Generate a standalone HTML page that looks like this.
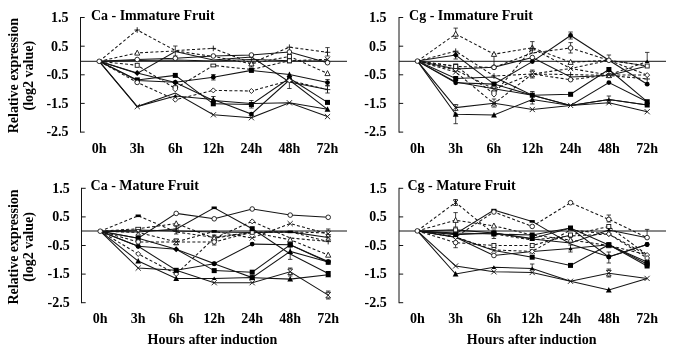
<!DOCTYPE html>
<html><head><meta charset="utf-8"><title>Relative expression</title>
<style>
html,body{margin:0;padding:0;background:#fff;}
svg{display:block;}
text{font-family:"Liberation Serif","Times New Roman",serif;font-weight:bold;fill:#000;}
</style></head><body>
<svg width="685" height="352" viewBox="0 0 685 352">
<rect width="685" height="352" fill="#fff"/>

<g id="p1">
<polyline points="99.2,61.3 137.2,30.0 175.3,50.5 213.3,48.4 251.4,63.0 289.4,47.2 327.5,52.3" fill="none" stroke="#141414" stroke-width="1.05" stroke-dasharray="3 2.2"/>
<polyline points="99.2,61.3 137.2,52.9 175.3,51.0 213.3,56.5 251.4,63.7 289.4,56.4 327.5,73.4" fill="none" stroke="#141414" stroke-width="1.05" stroke-dasharray="3 2.2"/>
<polyline points="99.2,61.3 137.2,59.5 175.3,58.3 213.3,56.0 251.4,55.0 289.4,52.0 327.5,62.7" fill="none" stroke="#141414" stroke-width="1.05"/>
<polyline points="99.2,61.3 137.2,60.5 175.3,60.0 213.3,61.0 251.4,59.5 289.4,60.8 327.5,61.0" fill="none" stroke="#141414" stroke-width="1.05"/>
<polyline points="99.2,61.3 137.2,65.3 175.3,88.5 213.3,65.5 251.4,69.5 289.4,60.8 327.5,59.3" fill="none" stroke="#141414" stroke-width="1.05" stroke-dasharray="3 2.2"/>
<polyline points="99.2,61.3 137.2,73.5 175.3,51.5 213.3,60.0 251.4,57.0 289.4,82.0 327.5,89.6" fill="none" stroke="#141414" stroke-width="1.05"/>
<polyline points="99.2,61.3 137.2,79.9 175.3,75.4 213.3,103.8 251.4,104.5 289.4,78.2 327.5,102.4" fill="none" stroke="#141414" stroke-width="1.05"/>
<polyline points="99.2,61.3 137.2,80.5 175.3,82.3 213.3,77.2 251.4,70.4 289.4,74.6 327.5,82.6" fill="none" stroke="#141414" stroke-width="1.05"/>
<polyline points="99.2,61.3 137.2,82.4 175.3,99.7 213.3,90.4 251.4,91.0 289.4,80.5 327.5,89.6" fill="none" stroke="#141414" stroke-width="1.05" stroke-dasharray="3 2.2"/>
<polyline points="99.2,61.3 137.2,106.6 175.3,96.0 213.3,99.5 251.4,114.1 289.4,80.0 327.5,109.3" fill="none" stroke="#141414" stroke-width="1.05"/>
<polyline points="99.2,61.3 137.2,73.1 175.3,82.6 213.3,100.5 251.4,103.5 289.4,102.8 327.5,109.3" fill="none" stroke="#141414" stroke-width="1.05"/>
<polyline points="99.2,61.3 137.2,106.6 175.3,93.0 213.3,114.8 251.4,117.7 289.4,102.8 327.5,116.6" fill="none" stroke="#141414" stroke-width="1.05"/>
<path d="M80.5 17.0V132.6" stroke="#141414" stroke-width="1" fill="none"/>
<path d="M80.5 17.5h4.2" stroke="#141414" stroke-width="1"/>
<text transform="translate(68.6,21.8) scale(1.0,1)" font-size="14.0" text-anchor="end">1.5</text>
<path d="M80.5 46.2h4.2" stroke="#141414" stroke-width="1"/>
<text transform="translate(68.6,50.5) scale(1.0,1)" font-size="14.0" text-anchor="end">0.5</text>
<path d="M80.5 74.8h4.2" stroke="#141414" stroke-width="1"/>
<text transform="translate(68.6,79.1) scale(1.0,1)" font-size="14.0" text-anchor="end">-0.5</text>
<path d="M80.5 103.4h4.2" stroke="#141414" stroke-width="1"/>
<text transform="translate(68.6,107.7) scale(1.0,1)" font-size="14.0" text-anchor="end">-1.5</text>
<path d="M80.5 132.1h4.2" stroke="#141414" stroke-width="1"/>
<text transform="translate(68.6,136.4) scale(1.0,1)" font-size="14.0" text-anchor="end">-2.5</text>
<path d="M80.5 61.3H347" stroke="#141414" stroke-width="1"/>
<path d="M175.3 46V56M173.1 46h4.4M173.1 56h4.4" stroke="#141414" stroke-width="0.8" fill="none"/>
<path d="M251.4 57V67M249.2 57h4.4M249.2 67h4.4" stroke="#141414" stroke-width="0.8" fill="none"/>
<path d="M289.4 78V88.5M287.2 78h4.4M287.2 88.5h4.4" stroke="#141414" stroke-width="0.8" fill="none"/>
<path d="M327.5 47.6V56M325.3 47.6h4.4M325.3 56h4.4" stroke="#141414" stroke-width="0.8" fill="none"/>
<path d="M327.5 86V93M325.3 86h4.4M325.3 93h4.4" stroke="#141414" stroke-width="0.8" fill="none"/>
<path d="M213.3 96.5V102M211.2 96.5h4.4M211.2 102h4.4" stroke="#141414" stroke-width="0.8" fill="none"/>
<path d="M251.4 100.5V108M249.2 100.5h4.4M249.2 108h4.4" stroke="#141414" stroke-width="0.8" fill="none"/>
<path d="M213.3 74.5V80M211.2 74.5h4.4M211.2 80h4.4" stroke="#141414" stroke-width="0.8" fill="none"/>
<path d="M327.5 79.5V85.5M325.3 79.5h4.4M325.3 85.5h4.4" stroke="#141414" stroke-width="0.8" fill="none"/>
<path d="M134.4 30.0h5.6M137.2 27.2v5.6" stroke="#141414" stroke-width="0.9" fill="none"/>

<path d="M210.5 48.4h5.6M213.3 45.6v5.6" stroke="#141414" stroke-width="0.9" fill="none"/>

<path d="M286.6 47.2h5.6M289.4 44.4v5.6" stroke="#141414" stroke-width="0.9" fill="none"/>
<path d="M324.7 52.3h5.6M327.5 49.5v5.6" stroke="#141414" stroke-width="0.9" fill="none"/>
<path d="M137.2 50.1L139.8 55.1H134.7Z" fill="#fff" stroke="#141414" stroke-width="0.9"/>


<path d="M251.4 60.9L254.0 65.9H248.8Z" fill="#fff" stroke="#141414" stroke-width="0.9"/>
<rect x="287.4" y="54.4" width="4" height="4" fill="#fff" stroke="#141414" stroke-width="0.9"/>
<path d="M327.5 70.6L330.1 75.6H324.9Z" fill="#fff" stroke="#141414" stroke-width="0.9"/>
<circle cx="137.2" cy="59.5" r="2.3" fill="#fff" stroke="#141414" stroke-width="0.9"/>
<circle cx="175.3" cy="58.3" r="2.3" fill="#fff" stroke="#141414" stroke-width="0.9"/>
<circle cx="213.3" cy="56.0" r="2.3" fill="#fff" stroke="#141414" stroke-width="0.9"/>
<circle cx="251.4" cy="55.0" r="2.3" fill="#fff" stroke="#141414" stroke-width="0.9"/>
<circle cx="289.4" cy="52.0" r="2.3" fill="#fff" stroke="#141414" stroke-width="0.9"/>
<circle cx="327.5" cy="62.7" r="2.3" fill="#fff" stroke="#141414" stroke-width="0.9"/>




<rect x="287.4" y="58.8" width="4" height="4" fill="#fff" stroke="#141414" stroke-width="0.9"/>

<rect x="135.2" y="63.3" width="4" height="4" fill="#fff" stroke="#141414" stroke-width="0.9"/>
<path d="M173.1 85.7h4.4v4l-2.2 2.2l-2.2 -2.2z" fill="#fff" stroke="#141414" stroke-width="0.9"/>
<rect x="210.9" y="64.1" width="4.8" height="2.8" fill="#fff" stroke="#141414" stroke-width="0.9"/>

<rect x="287.4" y="58.8" width="4" height="4" fill="#fff" stroke="#141414" stroke-width="0.9"/>
<path d="M324.9 56.7l5.2 5.2M324.9 61.9l5.2 -5.2" stroke="#141414" stroke-width="0.9" fill="none"/>





<path d="M324.7 89.6h5.6M327.5 86.8v5.6" stroke="#141414" stroke-width="0.9" fill="none"/>
<rect x="134.8" y="77.4" width="5" height="5" fill="#000"/>
<rect x="172.8" y="72.9" width="5" height="5" fill="#000"/>
<rect x="210.8" y="101.3" width="5" height="5" fill="#000"/>
<rect x="248.9" y="102.0" width="5" height="5" fill="#000"/>
<circle cx="289.4" cy="78.2" r="2.4" fill="#000"/>
<rect x="325.0" y="99.9" width="5" height="5" fill="#000"/>

<circle cx="175.3" cy="82.3" r="2.4" fill="#000"/>
<circle cx="213.3" cy="77.2" r="2.4" fill="#000"/>
<rect x="248.9" y="67.9" width="5" height="5" fill="#000"/>
<path d="M289.4 71.6L292.3 77.1H286.6Z" fill="#000"/>
<circle cx="327.5" cy="82.6" r="2.4" fill="#000"/>
<circle cx="137.2" cy="82.4" r="2.3" fill="#fff" stroke="#141414" stroke-width="0.9"/>
<path d="M175.3 97.2L177.8 99.7L175.3 102.2L172.8 99.7Z" fill="#fff" stroke="#141414" stroke-width="0.9"/>
<path d="M213.3 87.9L215.8 90.4L213.3 92.9L210.8 90.4Z" fill="#fff" stroke="#141414" stroke-width="0.9"/>
<path d="M251.4 88.5L253.9 91.0L251.4 93.5L248.9 91.0Z" fill="#fff" stroke="#141414" stroke-width="0.9"/>
<path d="M289.4 78.0L291.9 80.5L289.4 83.0L286.9 80.5Z" fill="#fff" stroke="#141414" stroke-width="0.9"/>


<path d="M175.3 94.0L177.5 97.6H173.1Z" fill="#000"/>
<path d="M213.3 96.5L216.2 102.0H210.4Z" fill="#000"/>
<circle cx="251.4" cy="114.1" r="2.4" fill="#000"/>

<path d="M327.5 106.3L330.4 111.8H324.6Z" fill="#000"/>
<path d="M137.2 70.1L140.2 73.1L137.2 76.1L134.2 73.1Z" fill="#000"/>
<path d="M175.3 79.6L178.3 82.6L175.3 85.6L172.3 82.6Z" fill="#000"/>




<path d="M134.7 104.0l5.2 5.2M134.7 109.2l5.2 -5.2" stroke="#141414" stroke-width="0.9" fill="none"/>

<path d="M210.8 112.2l5.2 5.2M210.8 117.4l5.2 -5.2" stroke="#141414" stroke-width="0.9" fill="none"/>
<path d="M248.8 115.1l5.2 5.2M248.8 120.3l5.2 -5.2" stroke="#141414" stroke-width="0.9" fill="none"/>
<path d="M286.8 100.2l5.2 5.2M286.8 105.4l5.2 -5.2" stroke="#141414" stroke-width="0.9" fill="none"/>
<path d="M324.9 114.0l5.2 5.2M324.9 119.2l5.2 -5.2" stroke="#141414" stroke-width="0.9" fill="none"/>
<circle cx="99.2" cy="61.3" r="2.3" fill="#fff" stroke="#141414" stroke-width="0.9"/>
<text transform="translate(90.9,19.8) scale(1.0,1)" font-size="14.0">Ca - Immature Fruit</text>
<text transform="translate(99.2,153.2) scale(1.0,1)" font-size="14.0" text-anchor="middle">0h</text>
<text transform="translate(137.2,153.2) scale(1.0,1)" font-size="14.0" text-anchor="middle">3h</text>
<text transform="translate(175.3,153.2) scale(1.0,1)" font-size="14.0" text-anchor="middle">6h</text>
<text transform="translate(213.3,153.2) scale(1.0,1)" font-size="14.0" text-anchor="middle">12h</text>
<text transform="translate(251.4,153.2) scale(1.0,1)" font-size="14.0" text-anchor="middle">24h</text>
<text transform="translate(289.4,153.2) scale(1.0,1)" font-size="14.0" text-anchor="middle">48h</text>
<text transform="translate(327.5,153.2) scale(1.0,1)" font-size="14.0" text-anchor="middle">72h</text>
</g>
<g id="p2">
<polyline points="417.4,61.1 455.7,34.0 494.0,54.2 532.3,47.7 570.6,62.2 608.9,60.3 647.2,66.0" fill="none" stroke="#141414" stroke-width="1.05" stroke-dasharray="3 2.2"/>
<polyline points="417.4,61.1 455.7,51.2 494.0,76.0 532.3,74.0 570.6,74.6 608.9,75.4 647.2,79.0" fill="none" stroke="#141414" stroke-width="1.05" stroke-dasharray="3 2.2"/>
<polyline points="417.4,61.1 455.7,55.0 494.0,84.1 532.3,95.2 570.6,105.4 608.9,99.6 647.2,105.0" fill="none" stroke="#141414" stroke-width="1.05"/>
<polyline points="417.4,61.1 455.7,66.0 494.0,93.7 532.3,48.5 570.6,68.5 608.9,60.3 647.2,66.0" fill="none" stroke="#141414" stroke-width="1.05" stroke-dasharray="3 2.2"/>
<polyline points="417.4,61.1 455.7,69.0 494.0,67.2 532.3,57.5 570.6,77.0 608.9,75.4 647.2,66.0" fill="none" stroke="#141414" stroke-width="1.05"/>
<polyline points="417.4,61.1 455.7,72.0 494.0,103.6 532.3,74.0 570.6,79.7 608.9,75.0 647.2,75.1" fill="none" stroke="#141414" stroke-width="1.05" stroke-dasharray="3 2.2"/>
<polyline points="417.4,61.1 455.7,78.5 494.0,77.0 532.3,95.2 570.6,94.3 608.9,69.5 647.2,101.7" fill="none" stroke="#141414" stroke-width="1.05"/>
<polyline points="417.4,61.1 455.7,82.8 494.0,84.1 532.3,61.6 570.6,35.5 608.9,60.3 647.2,84.2" fill="none" stroke="#141414" stroke-width="1.05"/>
<polyline points="417.4,61.1 455.7,114.2 494.0,114.9 532.3,99.6 570.6,105.4 608.9,99.6 647.2,105.0" fill="none" stroke="#141414" stroke-width="1.05"/>
<polyline points="417.4,61.1 455.7,66.5 494.0,67.4 532.3,53.0 570.6,48.0 608.9,60.3 647.2,75.0" fill="none" stroke="#141414" stroke-width="1.05" stroke-dasharray="3 2.2"/>
<polyline points="417.4,61.1 455.7,82.0 494.0,88.7 532.3,95.2 570.6,105.4 608.9,82.6 647.2,101.7" fill="none" stroke="#141414" stroke-width="1.05"/>
<polyline points="417.4,61.1 455.7,70.0 494.0,89.0 532.3,74.0 570.6,68.5 608.9,75.0 647.2,61.5" fill="none" stroke="#141414" stroke-width="1.05" stroke-dasharray="3 2.2"/>
<polyline points="417.4,61.1 455.7,107.6 494.0,103.2 532.3,109.5 570.6,105.4 608.9,102.8 647.2,111.7" fill="none" stroke="#141414" stroke-width="1.05"/>
<path d="M399.0 17.0V132.6" stroke="#141414" stroke-width="1" fill="none"/>
<path d="M399.0 17.5h4.2" stroke="#141414" stroke-width="1"/>
<text transform="translate(386.4,21.8) scale(1.0,1)" font-size="14.0" text-anchor="end">1.5</text>
<path d="M399.0 46.2h4.2" stroke="#141414" stroke-width="1"/>
<text transform="translate(386.4,50.5) scale(1.0,1)" font-size="14.0" text-anchor="end">0.5</text>
<path d="M399.0 74.8h4.2" stroke="#141414" stroke-width="1"/>
<text transform="translate(386.4,79.1) scale(1.0,1)" font-size="14.0" text-anchor="end">-0.5</text>
<path d="M399.0 103.4h4.2" stroke="#141414" stroke-width="1"/>
<text transform="translate(386.4,107.7) scale(1.0,1)" font-size="14.0" text-anchor="end">-1.5</text>
<path d="M399.0 132.1h4.2" stroke="#141414" stroke-width="1"/>
<text transform="translate(386.4,136.4) scale(1.0,1)" font-size="14.0" text-anchor="end">-2.5</text>
<path d="M399.0 61.3H666" stroke="#141414" stroke-width="1"/>
<path d="M455.7 28.1V38.4M453.5 28.1h4.4M453.5 38.4h4.4" stroke="#141414" stroke-width="0.8" fill="none"/>
<path d="M455.7 52V59M453.5 52h4.4M453.5 59h4.4" stroke="#141414" stroke-width="0.8" fill="none"/>
<path d="M494.0 54V66M491.8 54h4.4M491.8 66h4.4" stroke="#141414" stroke-width="0.8" fill="none"/>
<path d="M532.3 41.6V53M530.1 41.6h4.4M530.1 53h4.4" stroke="#141414" stroke-width="0.8" fill="none"/>
<path d="M570.6 32V39M568.4 32h4.4M568.4 39h4.4" stroke="#141414" stroke-width="0.8" fill="none"/>
<path d="M570.6 42.6V53M568.4 42.6h4.4M568.4 53h4.4" stroke="#141414" stroke-width="0.8" fill="none"/>
<path d="M455.7 114V123.7M453.5 114h4.4M453.5 123.7h4.4" stroke="#141414" stroke-width="0.8" fill="none"/>
<path d="M455.7 104.5V110.5M453.5 104.5h4.4M453.5 110.5h4.4" stroke="#141414" stroke-width="0.8" fill="none"/>
<path d="M532.3 91.5V104M530.1 91.5h4.4M530.1 104h4.4" stroke="#141414" stroke-width="0.8" fill="none"/>
<path d="M608.9 55V61M606.7 55h4.4M606.7 61h4.4" stroke="#141414" stroke-width="0.8" fill="none"/>
<path d="M647.2 52.4V62M645.0 52.4h4.4M645.0 62h4.4" stroke="#141414" stroke-width="0.8" fill="none"/>
<path d="M608.9 96V103M606.7 96h4.4M606.7 103h4.4" stroke="#141414" stroke-width="0.8" fill="none"/>
<path d="M494.0 99V107M491.8 99h4.4M491.8 107h4.4" stroke="#141414" stroke-width="0.8" fill="none"/>
<path d="M532.3 70V78M530.1 70h4.4M530.1 78h4.4" stroke="#141414" stroke-width="0.8" fill="none"/>
<path d="M455.7 31.2L458.3 36.2H453.1Z" fill="#fff" stroke="#141414" stroke-width="0.9"/>
<path d="M494.0 51.4L496.6 56.4H491.4Z" fill="#fff" stroke="#141414" stroke-width="0.9"/>
<path d="M532.3 44.9L534.9 49.9H529.7Z" fill="#fff" stroke="#141414" stroke-width="0.9"/>
<path d="M570.6 59.4L573.2 64.4H568.0Z" fill="#fff" stroke="#141414" stroke-width="0.9"/>

<rect x="645.2" y="64.0" width="4" height="4" fill="#fff" stroke="#141414" stroke-width="0.9"/>
<path d="M452.9 51.2h5.6M455.7 48.4v5.6" stroke="#141414" stroke-width="0.9" fill="none"/>
<path d="M491.2 76.0h5.6M494.0 73.2v5.6" stroke="#141414" stroke-width="0.9" fill="none"/>

<path d="M567.8 74.6h5.6M570.6 71.8v5.6" stroke="#141414" stroke-width="0.9" fill="none"/>
<path d="M606.1 75.4h5.6M608.9 72.6v5.6" stroke="#141414" stroke-width="0.9" fill="none"/>
<path d="M644.4 79.0h5.6M647.2 76.2v5.6" stroke="#141414" stroke-width="0.9" fill="none"/>
<path d="M455.7 52.0L458.7 55.0L455.7 58.0L452.7 55.0Z" fill="#000"/>



<path d="M608.9 97.6L611.1 101.2H606.7Z" fill="#000"/>
<rect x="644.7" y="102.5" width="5" height="5" fill="#000"/>
<rect x="453.7" y="64.0" width="4" height="4" fill="#fff" stroke="#141414" stroke-width="0.9"/>
<path d="M491.8 90.9h4.4v4l-2.2 2.2l-2.2 -2.2z" fill="#fff" stroke="#141414" stroke-width="0.9"/>
<path d="M529.5 48.5h5.6M532.3 45.7v5.6" stroke="#141414" stroke-width="0.9" fill="none"/>
<path d="M568.0 65.9l5.2 5.2M568.0 71.1l5.2 -5.2" stroke="#141414" stroke-width="0.9" fill="none"/>


<circle cx="455.7" cy="69.0" r="2.3" fill="#fff" stroke="#141414" stroke-width="0.9"/>
<circle cx="494.0" cy="67.2" r="2.3" fill="#fff" stroke="#141414" stroke-width="0.9"/>
<circle cx="532.3" cy="57.5" r="2.3" fill="#fff" stroke="#141414" stroke-width="0.9"/>

<path d="M608.9 72.6L611.5 77.6H606.3Z" fill="#fff" stroke="#141414" stroke-width="0.9"/>

<path d="M453.1 69.4l5.2 5.2M453.1 74.6l5.2 -5.2" stroke="#141414" stroke-width="0.9" fill="none"/>
<path d="M491.4 101.0l5.2 5.2M491.4 106.2l5.2 -5.2" stroke="#141414" stroke-width="0.9" fill="none"/>
<path d="M529.9 71.2h4.8l-4.8 5.6h4.8z" fill="#fff" stroke="#141414" stroke-width="0.9"/>
<circle cx="570.6" cy="79.7" r="2.3" fill="#fff" stroke="#141414" stroke-width="0.9"/>
<path d="M606.3 72.4l5.2 5.2M606.3 77.6l5.2 -5.2" stroke="#141414" stroke-width="0.9" fill="none"/>
<path d="M647.2 72.6L649.7 75.1L647.2 77.6L644.7 75.1Z" fill="#fff" stroke="#141414" stroke-width="0.9"/>
<rect x="453.2" y="76.0" width="5" height="5" fill="#000"/>

<rect x="529.8" y="92.7" width="5" height="5" fill="#000"/>
<rect x="568.1" y="91.8" width="5" height="5" fill="#000"/>
<rect x="606.4" y="67.0" width="5" height="5" fill="#000"/>
<rect x="644.7" y="99.2" width="5" height="5" fill="#000"/>
<circle cx="455.7" cy="82.8" r="2.4" fill="#000"/>
<rect x="491.5" y="81.6" width="5" height="5" fill="#000"/>
<circle cx="532.3" cy="61.6" r="2.4" fill="#000"/>
<circle cx="570.6" cy="35.5" r="2.4" fill="#000"/>

<circle cx="647.2" cy="84.2" r="2.4" fill="#000"/>
<path d="M455.7 111.2L458.6 116.7H452.8Z" fill="#000"/>
<path d="M494.0 111.9L496.9 117.4H491.1Z" fill="#000"/>
<path d="M532.3 96.6L535.2 102.1H529.4Z" fill="#000"/>



<rect x="453.7" y="64.5" width="4" height="4" fill="#fff" stroke="#141414" stroke-width="0.9"/>
<circle cx="494.0" cy="67.4" r="2.3" fill="#fff" stroke="#141414" stroke-width="0.9"/>

<circle cx="570.6" cy="48.0" r="2.3" fill="#fff" stroke="#141414" stroke-width="0.9"/>
<circle cx="608.9" cy="60.3" r="2.3" fill="#fff" stroke="#141414" stroke-width="0.9"/>


<path d="M491.4 86.1l5.2 5.2M491.4 91.3l5.2 -5.2" stroke="#141414" stroke-width="0.9" fill="none"/>


<circle cx="608.9" cy="82.6" r="2.4" fill="#000"/>






<path d="M647.2 59.5L649.4 63.1H645.0Z" fill="#000"/>
<path d="M453.1 105.0l5.2 5.2M453.1 110.2l5.2 -5.2" stroke="#141414" stroke-width="0.9" fill="none"/>
<path d="M491.4 100.6l5.2 5.2M491.4 105.8l5.2 -5.2" stroke="#141414" stroke-width="0.9" fill="none"/>
<path d="M529.7 106.9l5.2 5.2M529.7 112.1l5.2 -5.2" stroke="#141414" stroke-width="0.9" fill="none"/>
<path d="M568.0 102.8l5.2 5.2M568.0 108.0l5.2 -5.2" stroke="#141414" stroke-width="0.9" fill="none"/>
<path d="M606.3 100.2l5.2 5.2M606.3 105.4l5.2 -5.2" stroke="#141414" stroke-width="0.9" fill="none"/>
<path d="M644.6 109.1l5.2 5.2M644.6 114.3l5.2 -5.2" stroke="#141414" stroke-width="0.9" fill="none"/>
<circle cx="417.4" cy="61.1" r="2.3" fill="#fff" stroke="#141414" stroke-width="0.9"/>
<text transform="translate(409.1,19.7) scale(1.0,1)" font-size="14.0">Cg - Immature Fruit</text>
<text transform="translate(417.4,153.2) scale(1.0,1)" font-size="14.0" text-anchor="middle">0h</text>
<text transform="translate(455.7,153.2) scale(1.0,1)" font-size="14.0" text-anchor="middle">3h</text>
<text transform="translate(494.0,153.2) scale(1.0,1)" font-size="14.0" text-anchor="middle">6h</text>
<text transform="translate(532.3,153.2) scale(1.0,1)" font-size="14.0" text-anchor="middle">12h</text>
<text transform="translate(570.6,153.2) scale(1.0,1)" font-size="14.0" text-anchor="middle">24h</text>
<text transform="translate(608.9,153.2) scale(1.0,1)" font-size="14.0" text-anchor="middle">48h</text>
<text transform="translate(647.2,153.2) scale(1.0,1)" font-size="14.0" text-anchor="middle">72h</text>
</g>
<g id="p3">
<polyline points="100.2,231.2 138.2,215.8 176.2,232.0 214.2,237.4 252.2,232.3 290.2,231.9 328.2,241.6" fill="none" stroke="#141414" stroke-width="1.05" stroke-dasharray="3 2.2"/>
<polyline points="100.2,231.2 138.2,228.7 176.2,223.6 214.2,238.2 252.2,232.4 290.2,239.7 328.2,255.0" fill="none" stroke="#141414" stroke-width="1.05" stroke-dasharray="3 2.2"/>
<polyline points="100.2,231.2 138.2,238.2 176.2,213.4 214.2,218.8 252.2,209.0 290.2,215.1 328.2,217.3" fill="none" stroke="#141414" stroke-width="1.05"/>
<polyline points="100.2,231.2 138.2,232.0 176.2,229.0 214.2,207.8 252.2,228.7 290.2,254.0 328.2,273.5" fill="none" stroke="#141414" stroke-width="1.05"/>
<polyline points="100.2,231.2 138.2,232.4 176.2,241.9 214.2,231.4 252.2,238.0 290.2,223.6 328.2,233.9" fill="none" stroke="#141414" stroke-width="1.05" stroke-dasharray="3 2.2"/>
<polyline points="100.2,231.2 138.2,253.9 176.2,274.0 214.2,238.2 252.2,221.4 290.2,238.0 328.2,241.6" fill="none" stroke="#141414" stroke-width="1.05" stroke-dasharray="3 2.2"/>
<polyline points="100.2,231.2 138.2,246.3 176.2,249.2 214.2,263.6 252.2,244.1 290.2,244.8 328.2,261.6" fill="none" stroke="#141414" stroke-width="1.05"/>
<polyline points="100.2,231.2 138.2,238.2 176.2,249.2 214.2,270.6 252.2,272.2 290.2,244.8 328.2,262.3" fill="none" stroke="#141414" stroke-width="1.05"/>
<polyline points="100.2,231.2 138.2,261.1 176.2,278.4 214.2,278.4 252.2,277.6 290.2,279.1 328.2,274.7" fill="none" stroke="#141414" stroke-width="1.05"/>
<polyline points="100.2,231.2 138.2,246.3 176.2,270.3 214.2,263.8 252.2,277.6 290.2,251.4 328.2,262.0" fill="none" stroke="#141414" stroke-width="1.05"/>
<polyline points="100.2,231.2 138.2,230.0 176.2,231.0 214.2,232.0 252.2,232.4 290.2,231.9 328.2,237.4" fill="none" stroke="#141414" stroke-width="1.05"/>
<polyline points="100.2,231.2 138.2,241.9 176.2,241.9 214.2,241.9 252.2,232.3 290.2,231.9 328.2,233.0" fill="none" stroke="#141414" stroke-width="1.05" stroke-dasharray="3 2.2"/>
<polyline points="100.2,231.2 138.2,268.1 176.2,270.3 214.2,282.7 252.2,282.7 290.2,271.8 328.2,295.1" fill="none" stroke="#141414" stroke-width="1.05"/>
<path d="M81.5 187.8V303.2" stroke="#141414" stroke-width="1" fill="none"/>
<path d="M81.5 188.3h4.2" stroke="#141414" stroke-width="1"/>
<text transform="translate(69.7,192.6) scale(1.0,1)" font-size="14.0" text-anchor="end">1.5</text>
<path d="M81.5 216.9h4.2" stroke="#141414" stroke-width="1"/>
<text transform="translate(69.7,221.2) scale(1.0,1)" font-size="14.0" text-anchor="end">0.5</text>
<path d="M81.5 245.5h4.2" stroke="#141414" stroke-width="1"/>
<text transform="translate(69.7,249.8) scale(1.0,1)" font-size="14.0" text-anchor="end">-0.5</text>
<path d="M81.5 274.1h4.2" stroke="#141414" stroke-width="1"/>
<text transform="translate(69.7,278.4) scale(1.0,1)" font-size="14.0" text-anchor="end">-1.5</text>
<path d="M81.5 302.7h4.2" stroke="#141414" stroke-width="1"/>
<text transform="translate(69.7,307.0) scale(1.0,1)" font-size="14.0" text-anchor="end">-2.5</text>
<path d="M81.5 231.0H347" stroke="#141414" stroke-width="1"/>
<path d="M176.2 226V234M174.0 226h4.4M174.0 234h4.4" stroke="#141414" stroke-width="0.8" fill="none"/>
<path d="M290.2 246V259.4M288.0 246h4.4M288.0 259.4h4.4" stroke="#141414" stroke-width="0.8" fill="none"/>
<path d="M328.2 229V238M326.0 229h4.4M326.0 238h4.4" stroke="#141414" stroke-width="0.8" fill="none"/>
<path d="M290.2 268V276M288.0 268h4.4M288.0 276h4.4" stroke="#141414" stroke-width="0.8" fill="none"/>
<path d="M328.2 291V299M326.0 291h4.4M326.0 299h4.4" stroke="#141414" stroke-width="0.8" fill="none"/>
<path d="M214.2 235V245M212.0 235h4.4M212.0 245h4.4" stroke="#141414" stroke-width="0.8" fill="none"/>
<path d="M135.6 215.8h5.2" stroke="#000" stroke-width="2.6" fill="none"/>

<circle cx="214.2" cy="237.4" r="2.3" fill="#fff" stroke="#141414" stroke-width="0.9"/>
<rect x="250.2" y="230.3" width="4" height="4" fill="#fff" stroke="#141414" stroke-width="0.9"/>
<path d="M287.6 231.9h5.2" stroke="#000" stroke-width="2.6" fill="none"/>
<path d="M325.4 241.6h5.6M328.2 238.8v5.6" stroke="#141414" stroke-width="0.9" fill="none"/>
<rect x="135.8" y="227.3" width="4.8" height="2.8" fill="#fff" stroke="#141414" stroke-width="0.9"/>
<path d="M176.2 220.8L178.8 225.8H173.6Z" fill="#fff" stroke="#141414" stroke-width="0.9"/>
<path d="M214.2 235.4L216.8 240.4H211.6Z" fill="#fff" stroke="#141414" stroke-width="0.9"/>

<path d="M290.2 236.9L292.8 241.9H287.6Z" fill="#fff" stroke="#141414" stroke-width="0.9"/>
<path d="M328.2 252.2L330.8 257.2H325.6Z" fill="#fff" stroke="#141414" stroke-width="0.9"/>

<circle cx="176.2" cy="213.4" r="2.3" fill="#fff" stroke="#141414" stroke-width="0.9"/>
<circle cx="214.2" cy="218.8" r="2.3" fill="#fff" stroke="#141414" stroke-width="0.9"/>
<circle cx="252.2" cy="209.0" r="2.3" fill="#fff" stroke="#141414" stroke-width="0.9"/>
<circle cx="290.2" cy="215.1" r="2.3" fill="#fff" stroke="#141414" stroke-width="0.9"/>
<circle cx="328.2" cy="217.3" r="2.3" fill="#fff" stroke="#141414" stroke-width="0.9"/>

<path d="M173.4 229.0h5.6M176.2 226.2v5.6" stroke="#141414" stroke-width="0.9" fill="none"/>
<path d="M211.6 207.8h5.2" stroke="#000" stroke-width="2.6" fill="none"/>
<rect x="249.7" y="226.2" width="5" height="5" fill="#000"/>

<rect x="325.7" y="271.0" width="5" height="5" fill="#000"/>
<path d="M135.8 229.6h4.8l-4.8 5.6h4.8z" fill="#fff" stroke="#141414" stroke-width="0.9"/>
<path d="M173.8 239.1h4.8l-4.8 5.6h4.8z" fill="#fff" stroke="#141414" stroke-width="0.9"/>
<path d="M211.6 231.4h5.2" stroke="#000" stroke-width="2.6" fill="none"/>
<path d="M249.6 235.4l5.2 5.2M249.6 240.6l5.2 -5.2" stroke="#141414" stroke-width="0.9" fill="none"/>
<path d="M287.6 221.0l5.2 5.2M287.6 226.2l5.2 -5.2" stroke="#141414" stroke-width="0.9" fill="none"/>
<path d="M325.8 231.1h4.8l-4.8 5.6h4.8z" fill="#fff" stroke="#141414" stroke-width="0.9"/>
<path d="M138.2 251.4L140.7 253.9L138.2 256.4L135.7 253.9Z" fill="#fff" stroke="#141414" stroke-width="0.9"/>
<path d="M176.2 271.5L178.7 274.0L176.2 276.5L173.7 274.0Z" fill="#fff" stroke="#141414" stroke-width="0.9"/>
<path d="M214.2 235.4L216.8 240.4H211.6Z" fill="#fff" stroke="#141414" stroke-width="0.9"/>
<path d="M252.2 218.9L254.7 221.4L252.2 223.9L249.7 221.4Z" fill="#fff" stroke="#141414" stroke-width="0.9"/>


<circle cx="138.2" cy="246.3" r="2.4" fill="#000"/>
<path d="M176.2 246.2L179.2 249.2L176.2 252.2L173.2 249.2Z" fill="#000"/>
<circle cx="214.2" cy="263.6" r="2.4" fill="#000"/>
<circle cx="252.2" cy="244.1" r="2.4" fill="#000"/>
<rect x="287.7" y="242.3" width="5" height="5" fill="#000"/>
<circle cx="328.2" cy="261.6" r="2.4" fill="#000"/>
<rect x="135.7" y="235.7" width="5" height="5" fill="#000"/>

<rect x="211.7" y="268.1" width="5" height="5" fill="#000"/>
<rect x="249.7" y="269.7" width="5" height="5" fill="#000"/>
<rect x="287.7" y="242.3" width="5" height="5" fill="#000"/>
<rect x="325.7" y="259.8" width="5" height="5" fill="#000"/>
<path d="M138.2 258.1L141.1 263.6H135.3Z" fill="#000"/>
<path d="M176.2 275.4L179.1 280.9H173.3Z" fill="#000"/>
<path d="M214.2 276.4L216.4 280.0H212.0Z" fill="#000"/>
<path d="M252.2 274.6L255.1 280.1H249.3Z" fill="#000"/>
<path d="M290.2 276.1L293.1 281.6H287.3Z" fill="#000"/>
<path d="M328.2 271.7L331.1 277.2H325.3Z" fill="#000"/>
<circle cx="138.2" cy="246.3" r="2.4" fill="#000"/>
<rect x="173.7" y="267.8" width="5" height="5" fill="#000"/>
<circle cx="214.2" cy="263.8" r="2.4" fill="#000"/>
<rect x="249.7" y="275.1" width="5" height="5" fill="#000"/>
<path d="M290.2 248.4L293.1 253.9H287.3Z" fill="#000"/>
<circle cx="328.2" cy="262.0" r="2.4" fill="#000"/>

<path d="M173.4 231.0h5.6M176.2 228.2v5.6" stroke="#141414" stroke-width="0.9" fill="none"/>



<path d="M325.8 234.6h4.8l-4.8 5.6h4.8z" fill="#fff" stroke="#141414" stroke-width="0.9"/>
<circle cx="138.2" cy="241.9" r="2.3" fill="#fff" stroke="#141414" stroke-width="0.9"/>
<path d="M173.8 239.1h4.8l-4.8 5.6h4.8z" fill="#fff" stroke="#141414" stroke-width="0.9"/>
<circle cx="214.2" cy="241.9" r="2.3" fill="#fff" stroke="#141414" stroke-width="0.9"/>



<path d="M135.6 265.5l5.2 5.2M135.6 270.7l5.2 -5.2" stroke="#141414" stroke-width="0.9" fill="none"/>

<path d="M211.6 280.1l5.2 5.2M211.6 285.3l5.2 -5.2" stroke="#141414" stroke-width="0.9" fill="none"/>
<path d="M249.6 280.1l5.2 5.2M249.6 285.3l5.2 -5.2" stroke="#141414" stroke-width="0.9" fill="none"/>
<path d="M287.8 269.0h4.8l-4.8 5.6h4.8z" fill="#fff" stroke="#141414" stroke-width="0.9"/>
<path d="M325.8 292.3h4.8l-4.8 5.6h4.8z" fill="#fff" stroke="#141414" stroke-width="0.9"/>
<circle cx="100.2" cy="231.2" r="2.3" fill="#fff" stroke="#141414" stroke-width="0.9"/>
<text transform="translate(90.6,190.2) scale(1.0,1)" font-size="14.0">Ca - Mature Fruit</text>
<text transform="translate(100.2,323.3) scale(1.0,1)" font-size="14.0" text-anchor="middle">0h</text>
<text transform="translate(138.2,323.3) scale(1.0,1)" font-size="14.0" text-anchor="middle">3h</text>
<text transform="translate(176.2,323.3) scale(1.0,1)" font-size="14.0" text-anchor="middle">6h</text>
<text transform="translate(214.2,323.3) scale(1.0,1)" font-size="14.0" text-anchor="middle">12h</text>
<text transform="translate(252.2,323.3) scale(1.0,1)" font-size="14.0" text-anchor="middle">24h</text>
<text transform="translate(290.2,323.3) scale(1.0,1)" font-size="14.0" text-anchor="middle">48h</text>
<text transform="translate(328.2,323.3) scale(1.0,1)" font-size="14.0" text-anchor="middle">72h</text>
</g>
<g id="p4">
<polyline points="417.3,230.9 455.6,202.4 493.9,234.0 532.2,240.0 570.5,236.0 608.8,234.0 647.1,255.0" fill="none" stroke="#141414" stroke-width="1.05" stroke-dasharray="3 2.2"/>
<polyline points="417.3,230.9 455.6,220.2 493.9,225.8 532.2,235.0 570.5,240.0 608.8,245.5 647.1,254.7" fill="none" stroke="#141414" stroke-width="1.05" stroke-dasharray="3 2.2"/>
<polyline points="417.3,230.9 455.6,233.8 493.9,210.1 532.2,221.4 570.5,244.0 608.8,256.8 647.1,244.5" fill="none" stroke="#141414" stroke-width="1.05"/>
<polyline points="417.3,230.9 455.6,237.0 493.9,212.0 532.2,226.4 570.5,202.7 608.8,219.4 647.1,237.6" fill="none" stroke="#141414" stroke-width="1.05" stroke-dasharray="3 2.2"/>
<polyline points="417.3,230.9 455.6,234.6 493.9,233.1 532.2,238.5 570.5,228.0 608.8,245.0 647.1,262.0" fill="none" stroke="#141414" stroke-width="1.05"/>
<polyline points="417.3,230.9 455.6,237.2 493.9,255.5 532.2,251.4 570.5,248.6 608.8,244.7 647.1,266.0" fill="none" stroke="#141414" stroke-width="1.05"/>
<polyline points="417.3,230.9 455.6,237.2 493.9,250.5 532.2,257.2 570.5,265.4 608.8,244.7 647.1,264.0" fill="none" stroke="#141414" stroke-width="1.05"/>
<polyline points="417.3,230.9 455.6,242.6 493.9,245.5 532.2,245.5 570.5,235.0 608.8,226.5 647.1,254.7" fill="none" stroke="#141414" stroke-width="1.05" stroke-dasharray="3 2.2"/>
<polyline points="417.3,230.9 455.6,274.0 493.9,267.3 532.2,268.4 570.5,281.3 608.8,290.0 647.1,278.4" fill="none" stroke="#141414" stroke-width="1.05"/>
<polyline points="417.3,230.9 455.6,233.0 493.9,234.0 532.2,235.0 570.5,228.0 608.8,257.0 647.1,244.5" fill="none" stroke="#141414" stroke-width="1.05"/>
<polyline points="417.3,230.9 455.6,229.9 493.9,233.0 532.2,239.0 570.5,243.0 608.8,230.0 647.1,237.8" fill="none" stroke="#141414" stroke-width="1.05"/>
<polyline points="417.3,230.9 455.6,237.0 493.9,250.0 532.2,251.4 570.5,230.0 608.8,234.0 647.1,258.0" fill="none" stroke="#141414" stroke-width="1.05" stroke-dasharray="3 2.2"/>
<polyline points="417.3,230.9 455.6,266.0 493.9,271.8 532.2,272.5 570.5,281.3 608.8,273.2 647.1,278.4" fill="none" stroke="#141414" stroke-width="1.05"/>
<path d="M399.0 187.8V303.2" stroke="#141414" stroke-width="1" fill="none"/>
<path d="M399.0 188.3h4.2" stroke="#141414" stroke-width="1"/>
<text transform="translate(386.7,192.6) scale(1.0,1)" font-size="14.0" text-anchor="end">1.5</text>
<path d="M399.0 216.9h4.2" stroke="#141414" stroke-width="1"/>
<text transform="translate(386.7,221.2) scale(1.0,1)" font-size="14.0" text-anchor="end">0.5</text>
<path d="M399.0 245.5h4.2" stroke="#141414" stroke-width="1"/>
<text transform="translate(386.7,249.8) scale(1.0,1)" font-size="14.0" text-anchor="end">-0.5</text>
<path d="M399.0 274.1h4.2" stroke="#141414" stroke-width="1"/>
<text transform="translate(386.7,278.4) scale(1.0,1)" font-size="14.0" text-anchor="end">-1.5</text>
<path d="M399.0 302.7h4.2" stroke="#141414" stroke-width="1"/>
<text transform="translate(386.7,307.0) scale(1.0,1)" font-size="14.0" text-anchor="end">-2.5</text>
<path d="M399.0 231.0H666" stroke="#141414" stroke-width="1"/>
<path d="M455.6 199.5V205.5M453.4 199.5h4.4M453.4 205.5h4.4" stroke="#141414" stroke-width="0.8" fill="none"/>
<path d="M455.6 212.6V227M453.4 212.6h4.4M453.4 227h4.4" stroke="#141414" stroke-width="0.8" fill="none"/>
<path d="M455.6 238V247.7M453.4 238h4.4M453.4 247.7h4.4" stroke="#141414" stroke-width="0.8" fill="none"/>
<path d="M493.9 230V238.5M491.7 230h4.4M491.7 238.5h4.4" stroke="#141414" stroke-width="0.8" fill="none"/>
<path d="M608.8 215V222M606.6 215h4.4M606.6 222h4.4" stroke="#141414" stroke-width="0.8" fill="none"/>
<path d="M608.8 252V263M606.6 252h4.4M606.6 263h4.4" stroke="#141414" stroke-width="0.8" fill="none"/>
<path d="M647.1 229.4V238M644.9 229.4h4.4M644.9 238h4.4" stroke="#141414" stroke-width="0.8" fill="none"/>
<path d="M532.2 264V270M530.0 264h4.4M530.0 270h4.4" stroke="#141414" stroke-width="0.8" fill="none"/>
<path d="M570.5 245V252M568.3 245h4.4M568.3 252h4.4" stroke="#141414" stroke-width="0.8" fill="none"/>
<path d="M608.8 269V277M606.6 269h4.4M606.6 277h4.4" stroke="#141414" stroke-width="0.8" fill="none"/>
<path d="M453.2 200.0l4.8 4.8M453.2 204.8l4.8 -4.8M455.6 199.6v5.6" stroke="#141414" stroke-width="0.9" fill="none"/>


<path d="M570.5 233.5L573.0 236.0L570.5 238.5L568.0 236.0Z" fill="#fff" stroke="#141414" stroke-width="0.9"/>
<path d="M608.8 231.5L611.3 234.0L608.8 236.5L606.3 234.0Z" fill="#fff" stroke="#141414" stroke-width="0.9"/>
<path d="M647.1 252.5L649.6 255.0L647.1 257.5L644.6 255.0Z" fill="#fff" stroke="#141414" stroke-width="0.9"/>
<path d="M455.6 217.4L458.2 222.4H453.0Z" fill="#fff" stroke="#141414" stroke-width="0.9"/>
<path d="M493.9 223.0L496.5 228.0H491.3Z" fill="#fff" stroke="#141414" stroke-width="0.9"/>

<path d="M570.5 237.2L573.1 242.2H567.9Z" fill="#fff" stroke="#141414" stroke-width="0.9"/>
<path d="M608.8 242.7L611.4 247.7H606.2Z" fill="#fff" stroke="#141414" stroke-width="0.9"/>


<path d="M491.3 210.1h5.2" stroke="#000" stroke-width="2.6" fill="none"/>
<path d="M529.6 221.4h5.2" stroke="#000" stroke-width="2.6" fill="none"/>

<circle cx="608.8" cy="256.8" r="2.4" fill="#000"/>
<circle cx="647.1" cy="244.5" r="2.4" fill="#000"/>
<path d="M455.6 234.5L458.1 237.0L455.6 239.5L453.1 237.0Z" fill="#fff" stroke="#141414" stroke-width="0.9"/>
<circle cx="493.9" cy="212.0" r="2.3" fill="#fff" stroke="#141414" stroke-width="0.9"/>
<circle cx="532.2" cy="226.4" r="2.3" fill="#fff" stroke="#141414" stroke-width="0.9"/>
<circle cx="570.5" cy="202.7" r="2.3" fill="#fff" stroke="#141414" stroke-width="0.9"/>
<circle cx="608.8" cy="219.4" r="2.3" fill="#fff" stroke="#141414" stroke-width="0.9"/>
<circle cx="647.1" cy="237.6" r="2.3" fill="#fff" stroke="#141414" stroke-width="0.9"/>
<rect x="453.1" y="232.1" width="5" height="5" fill="#000"/>
<rect x="491.4" y="230.6" width="5" height="5" fill="#000"/>
<rect x="529.7" y="236.0" width="5" height="5" fill="#000"/>
<rect x="568.0" y="225.5" width="5" height="5" fill="#000"/>
<rect x="606.3" y="242.5" width="5" height="5" fill="#000"/>
<rect x="644.6" y="259.5" width="5" height="5" fill="#000"/>

<circle cx="493.9" cy="255.5" r="2.3" fill="#fff" stroke="#141414" stroke-width="0.9"/>
<path d="M529.6 248.8l5.2 5.2M529.6 254.0l5.2 -5.2" stroke="#141414" stroke-width="0.9" fill="none"/>
<path d="M570.5 246.6L572.7 250.2H568.3Z" fill="#000"/>

<rect x="644.6" y="263.5" width="5" height="5" fill="#000"/>

<path d="M491.3 247.9l5.2 5.2M491.3 253.1l5.2 -5.2" stroke="#141414" stroke-width="0.9" fill="none"/>
<rect x="529.7" y="254.7" width="5" height="5" fill="#000"/>
<rect x="568.0" y="262.9" width="5" height="5" fill="#000"/>
<rect x="606.3" y="242.2" width="5" height="5" fill="#000"/>
<rect x="644.6" y="261.5" width="5" height="5" fill="#000"/>
<circle cx="455.6" cy="242.6" r="2.3" fill="#fff" stroke="#141414" stroke-width="0.9"/>
<rect x="491.9" y="243.5" width="4" height="4" fill="#fff" stroke="#141414" stroke-width="0.9"/>
<rect x="530.2" y="243.5" width="4" height="4" fill="#fff" stroke="#141414" stroke-width="0.9"/>
<rect x="568.5" y="233.0" width="4" height="4" fill="#fff" stroke="#141414" stroke-width="0.9"/>
<rect x="606.8" y="224.5" width="4" height="4" fill="#fff" stroke="#141414" stroke-width="0.9"/>

<path d="M455.6 271.0L458.5 276.5H452.7Z" fill="#000"/>
<path d="M493.9 265.3L496.1 268.9H491.7Z" fill="#000"/>
<path d="M532.2 266.4L534.4 270.0H530.0Z" fill="#000"/>

<path d="M608.8 287.0L611.7 292.5H605.9Z" fill="#000"/>


<rect x="491.4" y="231.5" width="5" height="5" fill="#000"/>
<rect x="529.7" y="232.5" width="5" height="5" fill="#000"/>

<circle cx="608.8" cy="257.0" r="2.4" fill="#000"/>
<circle cx="647.1" cy="244.5" r="2.4" fill="#000"/>
<rect x="453.6" y="227.9" width="4" height="4" fill="#fff" stroke="#141414" stroke-width="0.9"/>



<path d="M608.8 228.0L611.0 231.6H606.6Z" fill="#000"/>



<path d="M532.2 248.9L534.7 251.4L532.2 253.9L529.7 251.4Z" fill="#fff" stroke="#141414" stroke-width="0.9"/>

<path d="M608.8 231.5L611.3 234.0L608.8 236.5L606.3 234.0Z" fill="#fff" stroke="#141414" stroke-width="0.9"/>
<path d="M647.1 255.5L649.6 258.0L647.1 260.5L644.6 258.0Z" fill="#fff" stroke="#141414" stroke-width="0.9"/>
<path d="M453.0 263.4l5.2 5.2M453.0 268.6l5.2 -5.2" stroke="#141414" stroke-width="0.9" fill="none"/>
<path d="M491.3 269.2l5.2 5.2M491.3 274.4l5.2 -5.2" stroke="#141414" stroke-width="0.9" fill="none"/>
<path d="M529.6 269.9l5.2 5.2M529.6 275.1l5.2 -5.2" stroke="#141414" stroke-width="0.9" fill="none"/>
<path d="M567.9 278.7l5.2 5.2M567.9 283.9l5.2 -5.2" stroke="#141414" stroke-width="0.9" fill="none"/>
<path d="M606.4 270.4h4.8l-4.8 5.6h4.8z" fill="#fff" stroke="#141414" stroke-width="0.9"/>
<path d="M644.5 275.8l5.2 5.2M644.5 281.0l5.2 -5.2" stroke="#141414" stroke-width="0.9" fill="none"/>
<circle cx="417.3" cy="230.9" r="2.3" fill="#fff" stroke="#141414" stroke-width="0.9"/>
<text transform="translate(407.4,190.2) scale(1.0,1)" font-size="14.0">Cg - Mature Fruit</text>
<text transform="translate(417.3,323.3) scale(1.0,1)" font-size="14.0" text-anchor="middle">0h</text>
<text transform="translate(455.6,323.3) scale(1.0,1)" font-size="14.0" text-anchor="middle">3h</text>
<text transform="translate(493.9,323.3) scale(1.0,1)" font-size="14.0" text-anchor="middle">6h</text>
<text transform="translate(532.2,323.3) scale(1.0,1)" font-size="14.0" text-anchor="middle">12h</text>
<text transform="translate(570.5,323.3) scale(1.0,1)" font-size="14.0" text-anchor="middle">24h</text>
<text transform="translate(608.8,323.3) scale(1.0,1)" font-size="14.0" text-anchor="middle">48h</text>
<text transform="translate(647.1,323.3) scale(1.0,1)" font-size="14.0" text-anchor="middle">72h</text>
</g>
<text transform="translate(18.4,75.7) rotate(-90) scale(1.0,1)" font-size="14.0" text-anchor="middle">Relative expression</text>
<text transform="translate(33.4,75.7) rotate(-90) scale(1.0,1)" font-size="14.0" text-anchor="middle">(log2 value)</text>
<text transform="translate(18.4,247.0) rotate(-90) scale(1.0,1)" font-size="14.0" text-anchor="middle">Relative expression</text>
<text transform="translate(33.4,247.0) rotate(-90) scale(1.0,1)" font-size="14.0" text-anchor="middle">(log2 value)</text>
<text transform="translate(212.4,343.7) scale(1.0,1)" font-size="14.0" text-anchor="middle">Hours after induction</text>
<text transform="translate(531.6,343.7) scale(1.0,1)" font-size="14.0" text-anchor="middle">Hours after induction</text>
</svg></body></html>
